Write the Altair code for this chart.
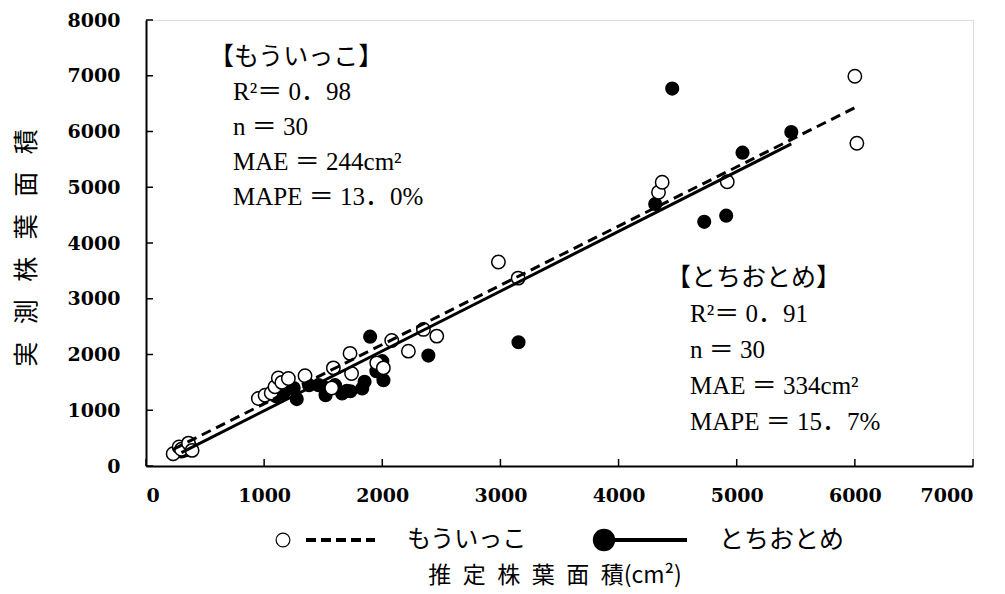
import altair as alt
import pandas as pd

# ---- data ----
moui_x = [230, 280, 300, 360, 390, 951, 1008, 1060, 1092, 1120, 1150, 1205, 1346, 1572, 1586,
          1740, 1727, 1953, 2009, 2080, 2221, 2348, 2461, 2983, 3150, 4338, 4369, 4920, 6000, 6017]
moui_y = [220, 340, 300, 410, 280, 1210, 1270, 1310, 1420, 1580, 1500, 1570, 1620, 1400, 1760,
          1660, 2020, 1850, 1760, 2250, 2060, 2450, 2330, 3660, 3370, 4910, 5090, 5100, 6990, 5790]

tochi_x = [300, 330, 380, 1100, 1160, 1200, 1250, 1276, 1380, 1460, 1500, 1520, 1600, 1660, 1700,
           1730, 1830, 1850, 1897, 1950, 2000, 2010, 2390, 3153, 4310, 4454, 4725, 4911, 5049, 5462]
tochi_y = [260, 280, 330, 1250, 1300, 1380, 1400, 1200, 1450, 1450, 1420, 1270, 1450, 1300, 1350,
           1340, 1390, 1510, 2320, 1700, 1880, 1540, 1980, 2220, 4700, 6770, 4380, 4490, 5620, 5990]

series_names = ["もういっこ", "とちおとめ"]
fit_slope = [1.062, 1.073]
fit_intercept = [55, -83]

x_ticks = [0, 1000, 2000, 3000, 4000, 5000, 6000, 7000]
y_ticks = [0, 1000, 2000, 3000, 4000, 5000, 6000, 7000, 8000]

stats_moui = ["【もういっこ】", "R²＝ 0．98", "n ＝ 30", "MAE ＝ 244cm²", "MAPE ＝ 13．0%"]
stats_tochi = ["【とちおとめ】", "R²＝ 0．91", "n ＝ 30", "MAE ＝ 334cm²", "MAPE ＝ 15．7%"]

x_title = "推\u2002定\u2002株\u2002葉\u2002面\u2002積(cm²)"
y_title = "実\u2002\u2009測\u2002\u2009株\u2002\u2009葉\u2002\u2009面\u2002\u2009積"

# ---- tables ----
df_m = pd.DataFrame({"x": moui_x, "y": moui_y})
df_t = pd.DataFrame({"x": tochi_x, "y": tochi_y})


def fit_df(xs, i):
    xr = [min(xs), max(xs)]
    return pd.DataFrame({"x": xr, "y": [fit_slope[i] * v + fit_intercept[i] for v in xr]})


fit_m = fit_df(moui_x, 0)
fit_t = fit_df(tochi_x, 1)
xt = pd.DataFrame({"v": x_ticks})
yt = pd.DataFrame({"v": y_ticks})

W, H = 827, 446
xs = alt.Scale(domain=[0, 7000], nice=False)
ys = alt.Scale(domain=[0, 8000], nice=False)
LBL = "DejaVu Serif"
JP = "Noto Sans CJK JP"
STAT = "Liberation Serif, Noto Sans CJK JP"

xaxis = alt.Axis(values=x_ticks, title=None, grid=False, ticks=False, domainColor="black",
                 domainWidth=2, labelFont=LBL, labelFontSize=19, labelFontWeight="bold",
                 labelColor="black", labelPadding=20, format="d")
yaxis = alt.Axis(values=y_ticks, title=None, grid=False, ticks=False, domainColor="black",
                 domainWidth=2, labelFont=LBL, labelFontSize=19, labelFontWeight="bold",
                 labelColor="black", labelPadding=26, format="d")

pts_t = alt.Chart(df_t).mark_circle(color="black", size=200, opacity=1).encode(
    x=alt.X("x:Q", scale=xs, axis=xaxis), y=alt.Y("y:Q", scale=ys, axis=yaxis))
pts_m = alt.Chart(df_m).mark_circle(color="white", stroke="black", strokeWidth=1.5,
                                    size=180, opacity=1).encode(
    x=alt.X("x:Q", scale=xs), y=alt.Y("y:Q", scale=ys))
line_m = alt.Chart(fit_m).mark_line(color="black", strokeWidth=3, strokeDash=[10, 6]).encode(
    x=alt.X("x:Q", scale=xs), y=alt.Y("y:Q", scale=ys))
line_t = alt.Chart(fit_t).mark_line(color="black", strokeWidth=3).encode(
    x=alt.X("x:Q", scale=xs), y=alt.Y("y:Q", scale=ys))

xtick = alt.Chart(xt).mark_rule(color="black", strokeWidth=1.5).encode(
    x=alt.X("v:Q", scale=xs), y=alt.value(H), y2=alt.value(H - 7))
ytick = alt.Chart(yt).mark_rule(color="black", strokeWidth=1.5).encode(
    y=alt.Y("v:Q", scale=ys), x=alt.value(0), x2=alt.value(7))

layers = [pts_t, pts_m, line_m, line_t, xtick, ytick]


def txt(s, x, y, font, size, align="left", angle=0):
    return alt.Chart(pd.DataFrame({"t": [s]})).mark_text(
        font=font, fontSize=size, align=align, baseline="middle", color="black",
        angle=angle).encode(x=alt.value(x), y=alt.value(y), text="t:N")


# stats blocks
for i, s in enumerate(stats_moui):
    if i == 0:
        layers.append(txt(s, 63, 37, JP, 25))
    else:
        layers.append(txt(s, 87, 37 + 35 * i, STAT, 25))
for i, s in enumerate(stats_tochi):
    if i == 0:
        layers.append(txt(s, 520, 258, JP, 25))
    else:
        layers.append(txt(s, 544, 258 + 36 * i, STAT, 25))

# titles
layers.append(txt(x_title, 409, 556, JP, 23, align="center"))
layers.append(txt(y_title, -119, 228, JP, 25, align="center", angle=270))

# legend
LY = 520
layers.append(alt.Chart(pd.DataFrame({"a": [0]})).mark_point(
    shape="circle", filled=True, color="white", stroke="black", strokeWidth=1.2,
    size=190, opacity=1).encode(x=alt.value(137), y=alt.value(LY)))
layers.append(alt.Chart(pd.DataFrame({"a": [0]})).mark_rule(
    color="black", strokeWidth=4, strokeDash=[10, 5]).encode(
    x=alt.value(160), x2=alt.value(229), y=alt.value(LY)))
layers.append(txt(series_names[0], 261, LY, JP, 24))
layers.append(alt.Chart(pd.DataFrame({"a": [0]})).mark_point(
    shape="circle", filled=True, color="black", size=500, opacity=1).encode(
    x=alt.value(458), y=alt.value(LY)))
layers.append(alt.Chart(pd.DataFrame({"a": [0]})).mark_rule(
    color="black", strokeWidth=4).encode(x=alt.value(465), x2=alt.value(541), y=alt.value(LY)))
layers.append(txt(series_names[1], 573, LY, JP, 25))

chart = alt.layer(*layers).properties(
    width=W, height=H,
    autosize=alt.AutoSizeParams(type="none"),
    padding={"left": 138, "top": 12, "right": 24, "bottom": 132},
).configure_view(stroke=None).configure(background="white")

chart.save("out.html", embed_options={"renderer": "svg", "actions": False})
